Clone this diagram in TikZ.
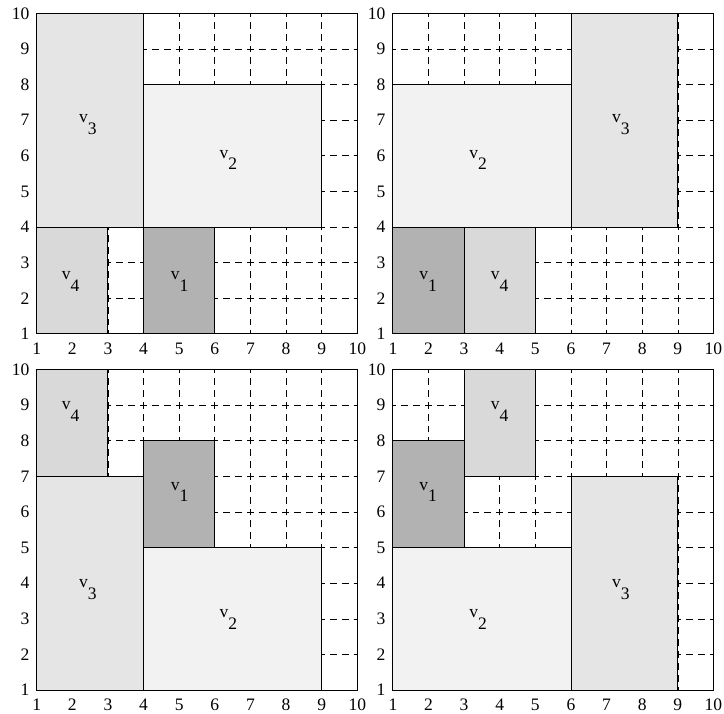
\documentclass[tikz,border=0pt]{standalone}
\usepackage{fontspec}
\setmainfont{Liberation Serif}
\usepackage{tikz}
\usepackage{xcolor}
\definecolor{boxone}{gray}{0.70}
\definecolor{boxtwo}{gray}{0.95}
\definecolor{boxthree}{gray}{0.90}
\definecolor{boxfour}{gray}{0.85}
\newcommand{\vsub}[1]{v\raisebox{-9.5pt}{#1}}

\begin{document}
\begin{tikzpicture}[
  gridline/.style={line width=0.5pt,dash pattern=on 5.5pt off 3.98pt,dash phase=2.75pt},
  block/.style={draw=black,line width=0.7pt},
  tick/.style={inner sep=0pt,font=\fontsize{14}{16}\selectfont},
  lab/.style={inner sep=0pt,font=\fontsize{14}{16}\selectfont}]
\useasboundingbox (-0.03,-9.672) rectangle (20.296,10.373);
% dashed grid of every panel
\foreach \px/\py in {0/0,10/0,0/-10,10/-10}{
  \foreach \i in {2,...,9}{
    \draw[gridline] (\px+\i,\py+1) -- (\px+\i,\py+10);
    \draw[gridline] (\px+1,\py+\i) -- (\px+10,\py+\i);
  }
}
% top left panel
\filldraw[block,fill=boxthree](1,4) rectangle (4,10);
\filldraw[block,fill=boxtwo](4,4) rectangle (9,8);
\filldraw[block,fill=boxfour](1,1) rectangle (3,4);
\filldraw[block,fill=boxone](4,1) rectangle (6,4);
\node[lab] (a3) at (2.44,6.87) {\vsub{3}};
\node[lab] (a2) at (6.38,5.88) {\vsub{2}};
\node[lab] (a4) at (1.95,2.48) {\vsub{4}};
\node[lab] (a1) at (5.01,2.46) {\vsub{1}};
% top right panel
\filldraw[block,fill=boxtwo](11,4) rectangle (16,8);
\filldraw[block,fill=boxthree](16,4) rectangle (19,10);
\filldraw[block,fill=boxone](11,1) rectangle (13,4);
\filldraw[block,fill=boxfour](13,1) rectangle (15,4);
\node[lab] (b2) at (13.39,5.88) {\vsub{2}};
\node[lab] (b3) at (17.4,6.87) {\vsub{3}};
\node[lab] (b1) at (11.99,2.46) {\vsub{1}};
\node[lab] (b4) at (14,2.46) {\vsub{4}};
% bottom left panel
\filldraw[block,fill=boxfour](1,-3) rectangle (3,0);
\filldraw[block,fill=boxone](4,-5) rectangle (6,-2);
\filldraw[block,fill=boxthree](1,-9) rectangle (4,-3);
\filldraw[block,fill=boxtwo](4,-9) rectangle (9,-5);
\node[lab] (c4) at (1.95,-1.19) {\vsub{4}};
\node[lab] (c1) at (5.01,-3.44) {\vsub{1}};
\node[lab] (c3) at (2.44,-6.17) {\vsub{3}};
\node[lab] (c2) at (6.38,-7.03) {\vsub{2}};
% bottom right panel
\filldraw[block,fill=boxone](11,-5) rectangle (13,-2);
\filldraw[block,fill=boxfour](13,-3) rectangle (15,0);
\filldraw[block,fill=boxtwo](11,-9) rectangle (16,-5);
\filldraw[block,fill=boxthree](16,-9) rectangle (19,-3);
\node[lab] (d1) at (11.99,-3.44) {\vsub{1}};
\node[lab] (d4) at (14,-1.19) {\vsub{4}};
\node[lab] (d2) at (13.39,-7.03) {\vsub{2}};
\node[lab] (d3) at (17.4,-6.17) {\vsub{3}};
% frames and tick labels
\foreach \px/\py/\p in {0/0/a,10/0/b,0/-10/c,10/-10/d}{
  \draw[block] (\px+1,\py+1) rectangle (\px+10,\py+10);
  \foreach \i in {1,...,10}{
    \node[tick] (xt-\p-\i) at (\px+\i,\py+0.58) {\i};
    \node[tick,anchor=east] (yt-\p-\i) at (\px+0.8,\py+\i) {\i};
  }
}
\end{tikzpicture}
\end{document}
